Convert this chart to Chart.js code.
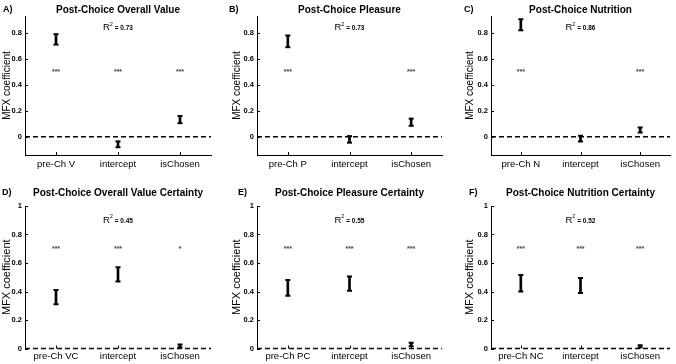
<!DOCTYPE html>
<html>
<head>
<meta charset="utf-8">
<script src="https://cdn.jsdelivr.net/npm/chart.js@4"></script>
<style>
  html, body { margin: 0; padding: 0; background: #fff; }
  #wrap { position: relative; width: 676px; height: 364px; overflow: hidden; }
  canvas { position: absolute; }
</style>
</head>
<body>
<div id="wrap">
  <canvas id="cA" width="226" height="182" style="left:0px;top:0px"></canvas>
  <canvas id="cB" width="226" height="182" style="left:226px;top:0px"></canvas>
  <canvas id="cC" width="224" height="182" style="left:452px;top:0px"></canvas>
  <canvas id="cD" width="226" height="182" style="left:0px;top:182px"></canvas>
  <canvas id="cE" width="226" height="182" style="left:226px;top:182px"></canvas>
  <canvas id="cF" width="224" height="182" style="left:452px;top:182px"></canvas>
</div>
<script>
// tick labels
const ticksTop = [0, 0.2, 0.4, 0.6, 0.8];
const ticksBottom = [0, 0.2, 0.4, 0.6, 0.8, 1];

// A) overall value
const catsA = ["pre-Ch V", "intercept", "isChosen"];
const lowA = [0.71, -0.08, 0.105];
const highA = [0.79, -0.035, 0.16];
const starsA = ["***", "***", "***"];
const r2A = "0.73";

// B) pleasure
const catsB = ["pre-Ch P", "intercept", "isChosen"];
const lowB = [0.69, -0.045, 0.085];
const highB = [0.78, 0.005, 0.14];
const starsB = ["***", "", "***"];
const r2B = "0.73";

// C) nutrition
const catsC = ["pre-Ch N", "intercept", "isChosen"];
const lowC = [0.82, -0.036, 0.033];
const highC = [0.905, 0.008, 0.072];
const starsC = ["***", "", "***"];
const r2C = "0.86";

// D) overall value certainty
const catsD = ["pre-Ch VC", "intercept", "isChosen"];
const lowD = [0.31, 0.47, 0.007];
const highD = [0.41, 0.57, 0.028];
const starsD = ["***", "***", "*"];
const r2D = "0.45";

// E) pleasure certainty
const catsE = ["pre-Ch PC", "intercept", "isChosen"];
const lowE = [0.37, 0.405, 0.016];
const highE = [0.48, 0.505, 0.04];
const starsE = ["***", "***", "***"];
const r2E = "0.55";

// F) nutrition certainty
const catsF = ["pre-Ch NC", "intercept", "isChosen"];
const lowF = [0.40, 0.39, 0.007];
const highF = [0.515, 0.495, 0.023];
const starsF = ["***", "***", "***"];
const r2F = "0.52";

const FONT = "'Liberation Sans', Arial, sans-serif";

const panelDeco = {
  id: "panelDeco",
  beforeDatasetsDraw(chart, args, o) {
    const ctx = chart.ctx, xs = chart.scales.x, ys = chart.scales.y, a = chart.chartArea;
    ctx.save();
    // dashed zero line
    const y0 = ys.getPixelForValue(0);
    ctx.strokeStyle = "#000";
    ctx.lineWidth = 1.5;
    ctx.setLineDash([5, 3]);
    ctx.beginPath();
    ctx.moveTo(a.left, y0);
    ctx.lineTo(a.right, y0);
    ctx.stroke();
    ctx.setLineDash([]);
    // inward ticks
    ctx.lineWidth = 1;
    ys.ticks.forEach((t, i) => {
      const py = Math.round(ys.getPixelForTick(i)) + 0.5;
      ctx.beginPath();
      ctx.moveTo(a.left, py);
      ctx.lineTo(a.left + 3, py);
      ctx.stroke();
    });
    xs.ticks.forEach((t, i) => {
      const px = Math.round(xs.getPixelForTick(i)) + 0.5;
      ctx.beginPath();
      ctx.moveTo(px, a.bottom);
      ctx.lineTo(px, a.bottom - 3);
      ctx.stroke();
    });
    ctx.restore();
  },
  afterDatasetsDraw(chart, args, o) {
    const ctx = chart.ctx, xs = chart.scales.x, ys = chart.scales.y, a = chart.chartArea;
    ctx.save();
    ctx.textBaseline = "middle";
    // significance stars
    ctx.font = "bold 7px " + FONT;
    ctx.textAlign = "center";
    ctx.fillStyle = "#444";
    o.stars.forEach((s, i) => {
      if (s) ctx.fillText(s, xs.getPixelForValue(i), ys.getPixelForValue(o.starY));
    });
    ctx.fillStyle = "#000";
    // R squared
    const fR = "9.5px " + FONT, f2 = "5.5px " + FONT, fV = "bold 6.5px " + FONT;
    const tV = " = " + o.r2;
    ctx.font = fR; const wR = ctx.measureText("R").width;
    ctx.font = f2; const w2 = ctx.measureText("2").width;
    ctx.font = fV; const wV = ctx.measureText(tV).width;
    let rx = xs.getPixelForValue(1) - (wR + w2 + wV) / 2;
    const ry = ys.getPixelForValue(o.r2Y);
    ctx.textAlign = "left";
    ctx.font = fR; ctx.fillText("R", rx, ry); rx += wR;
    ctx.font = f2; ctx.fillText("2", rx, ry - 3.5); rx += w2;
    ctx.font = fV; ctx.fillText(tV, rx, ry + 0.5);
    // title
    ctx.textAlign = "center";
    ctx.font = "bold 10px " + FONT;
    ctx.fillText(o.title, (a.left + a.right) / 2, o.titleY);
    // panel letter
    ctx.textAlign = "left";
    ctx.font = "bold 9px " + FONT;
    ctx.fillText(o.letter, o.letterX, o.titleY);
    ctx.restore();
  }
};

function panel(id, p) {
  new Chart(document.getElementById(id), {
    data: {
      labels: p.cats,
      datasets: [
        {
          type: "bar",
          data: p.low.map((v, i) => [v, p.high[i]]),
          backgroundColor: "#000",
          barThickness: 2,
          order: 2
        },
        {
          type: "line",
          data: p.low,
          showLine: false,
          pointStyle: "line",
          pointRadius: 2.5,
          pointBorderWidth: 2,
          pointBorderColor: "#000",
          order: 1
        },
        {
          type: "line",
          data: p.high,
          showLine: false,
          pointStyle: "line",
          pointRadius: 2.5,
          pointBorderWidth: 2,
          pointBorderColor: "#000",
          order: 1
        }
      ]
    },
    options: {
      responsive: false,
      animation: false,
      events: [],
      layout: { padding: { top: p.top, right: p.right, left: 0, bottom: 0 } },
      plugins: {
        legend: { display: false },
        tooltip: { enabled: false },
        panelDeco: {
          stars: p.stars, starY: p.starY, r2: p.r2, r2Y: p.r2Y,
          title: p.title, titleY: p.titleY, letter: p.letter, letterX: p.letterX
        }
      },
      scales: {
        x: {
          offset: true,
          grid: { display: false, drawTicks: false },
          border: { display: p.xBorder, color: "#000", width: 1 },
          ticks: { color: "#000", font: { family: FONT, size: 9.5 }, padding: p.xPad, maxRotation: 0, autoSkip: false },
          afterFit(s) { s.height = p.xh; }
        },
        y: {
          min: p.min,
          max: p.max,
          grid: { display: false, drawTicks: false },
          border: { display: true, color: "#000", width: 1 },
          ticks: {
            color: "#000",
            font: { family: FONT, size: 7.5, weight: "bold" },
            padding: 3,
            callback: v => String(v)
          },
          afterBuildTicks(s) { s.ticks = p.ticks.map(v => ({ value: v })); },
          afterFit(s) { s.width = p.yw; },
          title: {
            display: true,
            text: "MFX coefficient",
            color: "#000",
            font: { family: FONT, size: p.ytSize },
            padding: { top: p.ytPad, bottom: 0 }
          }
        }
      }
    },
    plugins: [panelDeco]
  });
}

const topRow = { top: 16, xh: 27, xPad: 4, min: -0.14, max: 0.93, ticks: ticksTop, starY: 0.5, r2Y: 0.84, titleY: 10, ytSize: 10, xBorder: true };
const botRow = { top: 24, xh: 15.5, xPad: 2.5, min: 0, max: 1, ticks: ticksBottom, starY: 0.7, r2Y: 0.9, titleY: 11, ytSize: 11, xBorder: false };

panel("cA", Object.assign({}, topRow, { cats: catsA, low: lowA, high: highA, stars: starsA, r2: r2A, title: "Post-Choice Overall Value", letter: "A)", letterX: 3, yw: 25, right: 15, ytPad: 1 }));
panel("cB", Object.assign({}, topRow, { cats: catsB, low: lowB, high: highB, stars: starsB, r2: r2B, title: "Post-Choice Pleasure", letter: "B)", letterX: 3, yw: 31, right: 10, ytPad: 5 }));
panel("cC", Object.assign({}, topRow, { cats: catsC, low: lowC, high: highC, stars: starsC, r2: r2C, title: "Post-Choice Nutrition", letter: "C)", letterX: 12, yw: 39, right: 0, ytPad: 12 }));
panel("cD", Object.assign({}, botRow, { cats: catsD, low: lowD, high: highD, stars: starsD, r2: r2D, title: "Post-Choice Overall Value Certainty", letter: "D)", letterX: 2, yw: 25, right: 15, ytPad: 0.5 }));
panel("cE", Object.assign({}, botRow, { cats: catsE, low: lowE, high: highE, stars: starsE, r2: r2E, title: "Post-Choice Pleasure Certainty", letter: "E)", letterX: 12, yw: 31, right: 10, ytPad: 4.5 }));
panel("cF", Object.assign({}, botRow, { cats: catsF, low: lowF, high: highF, stars: starsF, r2: r2F, title: "Post-Choice Nutrition Certainty", letter: "F)", letterX: 17, yw: 39, right: 0, ytPad: 11.5 }));
</script>
</body>
</html>
